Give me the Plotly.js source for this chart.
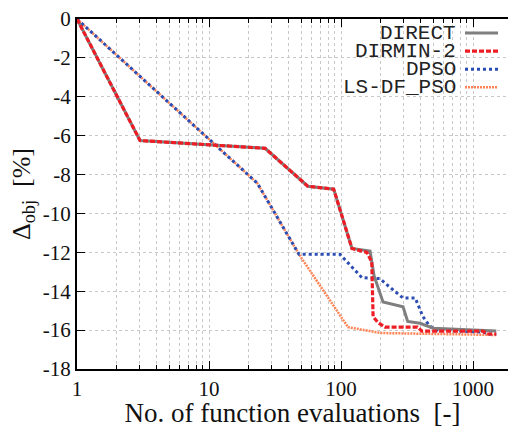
<!DOCTYPE html>
<html>
<head>
<meta charset="utf-8">
<script src="https://cdn.plot.ly/plotly-3.0.1.min.js"></script>
<style>html,body{margin:0;padding:0;background:#fff;}#chart{width:508px;height:428px;}</style>
</head>
<body>
<div id="chart"></div>
<script>
const seriesNames = ["DIRECT", "DIRMIN-2", "DPSO", "LS-DF_PSO"];

const xDirect = [1, 3, 26.6, 56, 88, 121, 166, 178, 208, 295, 320, 397, 500, 1500];
const yDirect = [0, -6.25, -6.65, -8.6, -8.75, -11.8, -11.93, -13.2, -14.55, -14.8, -15.55, -15.65, -15.9, -16.05];

const xDirmin = [1, 3, 26.6, 56, 88, 121, 157, 171, 175, 190, 215, 380, 410, 1190, 1280, 1500];
const yDirmin = [0, -6.25, -6.65, -8.6, -8.75, -11.8, -12.0, -12.5, -15.3, -15.6, -15.85, -15.85, -16.05, -16.05, -16.2, -16.2];

const xDpso = [1, 23.2, 48, 98, 144, 197, 235, 295, 365, 417, 470, 540, 1190, 1340, 1500];
const yDpso = [0, -8.44, -12.1, -12.1, -13.3, -13.35, -13.8, -14.35, -14.35, -15.3, -15.8, -16.0, -16.1, -16.2, -16.2];

const xLs = [1, 23.2, 48, 113, 200, 1500];
const yLs = [0, -8.44, -12.1, -15.85, -16.15, -16.25];

const yTicks = [0, -2, -4, -6, -8, -10, -12, -14, -16, -18];
const xTicks = [1, 10, 100, 1000];
const xMinorTicks = [2, 3, 4, 5, 6, 7, 8, 9, 20, 30, 40, 50, 60, 70, 80, 90, 200, 300, 400, 500, 600, 700, 800, 900];

const SERIF = '"Liberation Serif", "Times New Roman", Times, serif';
const MONO = '"Liberation Mono", "Courier New", "DejaVu Sans Mono", monospace';

const styles = {
  "DIRECT":    {color: "#7f7f7f", width: 3, dash: "solid"},
  "DIRMIN-2":  {color: "#ee1c24", width: 3.2, dash: "5px,2px"},
  "DPSO":      {color: "#2b4db3", width: 3, dash: "3px,3px"},
  "LS-DF_PSO": {color: "#ff8455", width: 2.5, dash: "2px,1px"}
};

const dataMap = {
  "DIRECT": [xDirect, yDirect],
  "DIRMIN-2": [xDirmin, yDirmin],
  "DPSO": [xDpso, yDpso],
  "LS-DF_PSO": [xLs, yLs]
};

const drawOrder = ["LS-DF_PSO", "DPSO", "DIRECT", "DIRMIN-2"];
const traces = drawOrder.map(n => ({
  type: "scatter", mode: "lines", name: n,
  x: dataMap[n][0], y: dataMap[n][1],
  line: styles[n], showlegend: false, hoverinfo: "skip"
}));

const annotations = [];
const shapes = [];
const legTop = 33, legStep = 18.1, H = 428, T = 19, B = 59, L = 77, PW = 431;
seriesNames.forEach((n, i) => {
  const py = legTop + i * legStep;
  const yp = 1 - (py - T) / (H - T - B);
  annotations.push({
    xref: "paper", yref: "paper", x: (458 - L) / PW, y: yp,
    xanchor: "right", yanchor: "middle", showarrow: false,
    text: n, font: {family: MONO, size: 21, color: "#222"}
  });
  shapes.push({
    type: "line", xref: "paper", yref: "paper",
    x0: (465 - L) / PW, x1: (498 - L) / PW, y0: yp, y1: yp,
    line: {color: styles[n].color, width: styles[n].width, dash: styles[n].dash}
  });
});

// y-axis title as rotated annotation
annotations.push({
  xref: "paper", yref: "paper", x: (23 - L) / PW, y: 0.5,
  xanchor: "center", yanchor: "middle", showarrow: false, textangle: -90,
  text: "Δ<sub>obj</sub>\u00a0\u00a0[%]", font: {family: SERIF, size: 26, color: "#111"}
});

const layout = {
  width: 508, height: 428,
  margin: {l: L, r: 0, t: T, b: B},
  paper_bgcolor: "#fff", plot_bgcolor: "#fff",
  font: {family: SERIF, size: 20, color: "#111"},
  xaxis: {
    type: "log", range: [0, Math.log10(1841)],
    tickmode: "array", tickvals: xTicks, ticktext: xTicks.map(String),
    ticks: "inside", ticklen: 8, tickwidth: 1, tickcolor: "#000",
    showline: true, linecolor: "#000", linewidth: 2, mirror: "ticks",
    showgrid: true, gridcolor: "#c8c8c8", griddash: "dot", gridwidth: 1,
    zeroline: false,
    minor: {tickmode: "array", tickvals: xMinorTicks, ticks: "inside", ticklen: 4, tickcolor: "#000",
            showgrid: true, gridcolor: "#c8c8c8", griddash: "dot", gridwidth: 1},
    tickfont: {size: 21, family: SERIF},
    title: {text: "No. of function evaluations\u00a0\u00a0[-]", font: {size: 27, family: SERIF}, standoff: 4}
  },
  yaxis: {
    range: [-18, 0],
    tickmode: "array", tickvals: yTicks, ticktext: yTicks.map(String),
    ticks: "inside", ticklen: 8, tickcolor: "#000",
    showline: true, linecolor: "#000", linewidth: 2, mirror: false,
    showgrid: true, gridcolor: "#c8c8c8", griddash: "dot", gridwidth: 1,
    zeroline: false,
    tickfont: {size: 21, family: SERIF}
  },
  showlegend: false,
  annotations: annotations,
  shapes: shapes
};

Plotly.newPlot("chart", traces, layout, {displayModeBar: false, staticPlot: true});
</script>
</body>
</html>
